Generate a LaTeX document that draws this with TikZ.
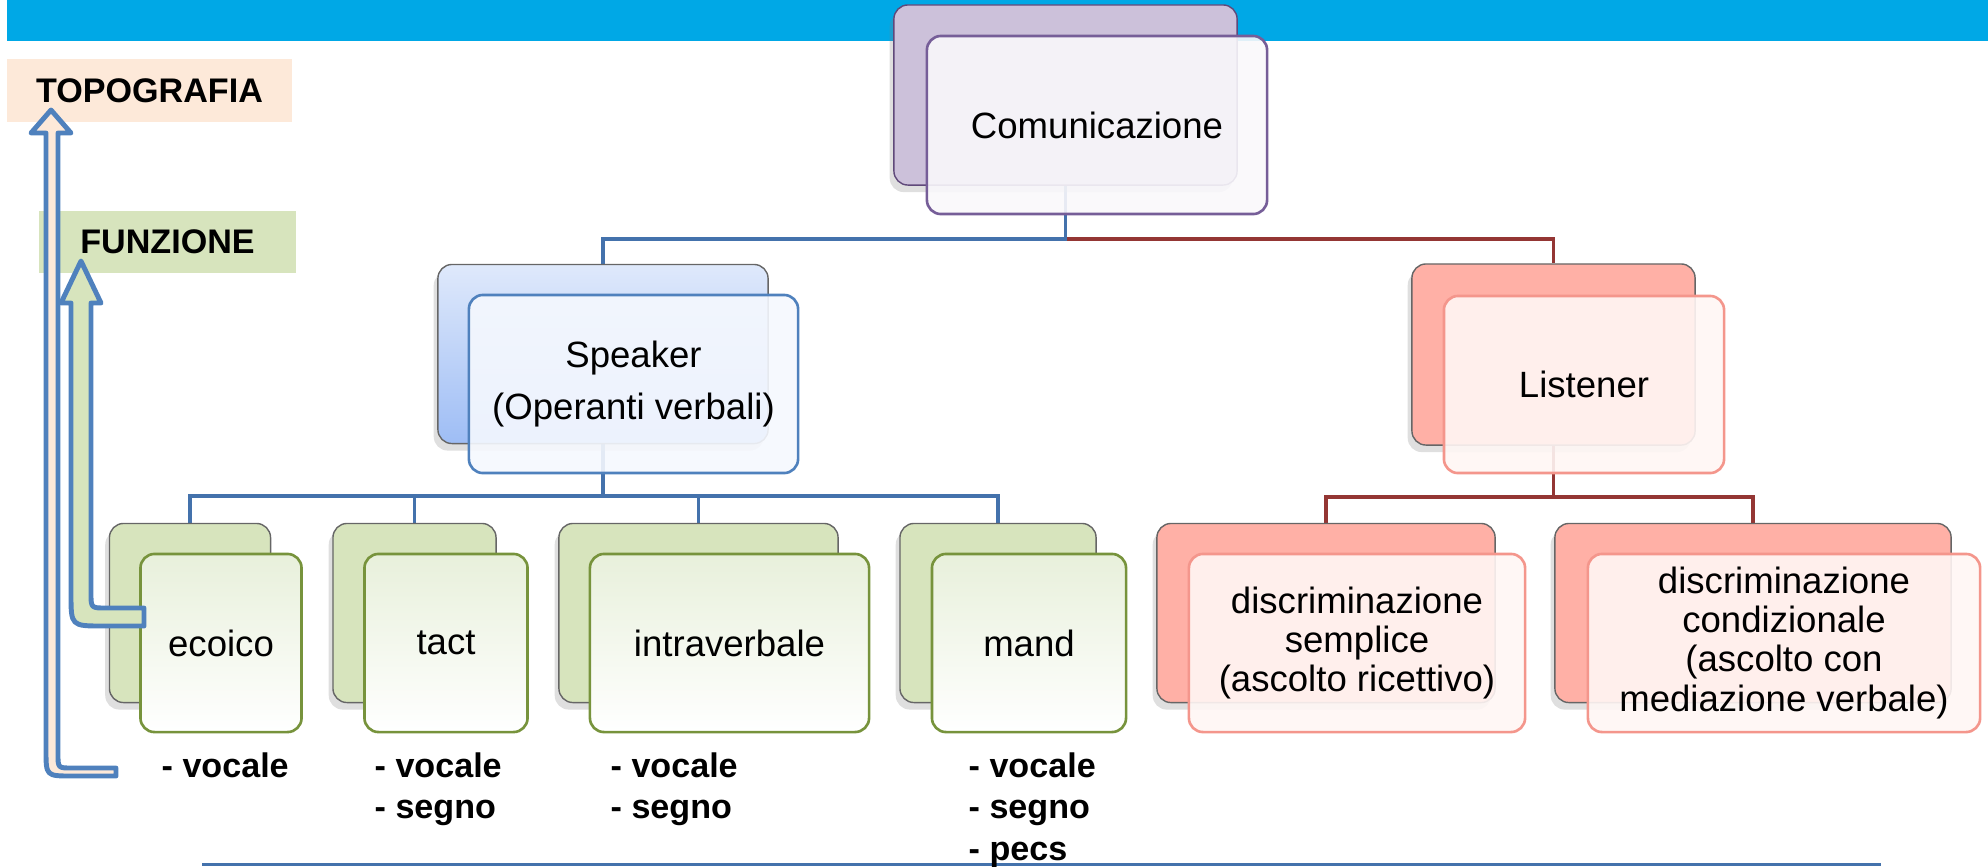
\documentclass[tikz,border=0pt]{standalone}
\usepackage{fontspec}
\setmainfont{Liberation Sans}
\usetikzlibrary{shadows,backgrounds}

\definecolor{barblue}{RGB}{0,168,230}
\definecolor{linkblue}{RGB}{68,114,172}
\definecolor{linkred}{RGB}{148,54,52}
\definecolor{arrowblue}{RGB}{79,129,189}
\definecolor{comfill}{RGB}{204,193,218}
\definecolor{comedge}{RGB}{95,73,122}
\definecolor{comline}{RGB}{118,94,152}
\definecolor{spktop}{RGB}{223,233,251}
\definecolor{spkbot}{RGB}{158,189,245}
\definecolor{lstfill}{RGB}{255,176,166}
\definecolor{lstline}{RGB}{244,150,140}
\definecolor{leaffill}{RGB}{215,228,189}
\definecolor{leaftop}{RGB}{232,240,219}
\definecolor{leafline}{RGB}{119,147,60}
\definecolor{peach}{RGB}{253,233,217}

\begin{document}
\begin{tikzpicture}[x=0.01cm, y=-0.01cm,
    back/.style={rectangle, rounded corners=4pt, draw=black!60, line width=0.4pt, inner sep=0pt, minimum height=1.79cm,
        drop shadow={shadow xshift=-1.2pt, shadow yshift=-2pt, opacity=0.25}},
    front/.style={rectangle, rounded corners=4pt, line width=0.75pt, inner sep=0pt, minimum height=1.78cm,
        align=center, fill opacity=0.9, text opacity=1, font=\fontsize{10.4}{11.1}\selectfont},
    comback/.style={back, fill=comfill, draw=comedge, minimum width=3.43cm, minimum height=1.8cm},
    comfront/.style={front, draw=comline, fill=comfill!12, minimum width=3.4cm},
    spkback/.style={back, top color=spktop, bottom color=spkbot, minimum width=3.3cm},
    spkfront/.style={front, draw=arrowblue, fill=spktop!30, minimum width=3.29cm, font=\fontsize{10.4}{15}\selectfont},
    lstback/.style={back, fill=lstfill, minimum width=2.83cm, minimum height=1.81cm},
    lstfront/.style={front, draw=lstline, fill=lstfill!12, minimum width=2.8cm, minimum height=1.77cm},
    leafback/.style={back, fill=leaffill},
    leaffront/.style={front, draw=leafline, top color=leaftop, bottom color=white, fill opacity=1},
    discback/.style={back, fill=lstfill},
    discfront/.style={front, draw=lstline, fill=lstfill!12},
    tag/.style={rectangle, inner sep=0pt, font=\bfseries\fontsize{9.7}{11}\selectfont},
    form/.style={anchor=north west, inner sep=0pt, align=left, font=\bfseries\fontsize{9.7}{11.8}\selectfont},
    bluelink/.style={draw=linkblue, line width=1.1pt},
    redlink/.style={draw=linkred, line width=1.1pt},
    blockarrow/.style={draw=arrowblue, line width=1.4pt, line join=round}
]
    \useasboundingbox (0,0) rectangle (1988,866);

    % Root
    \node[comback] (comB) at (1065.5,95) {};
    \node[comfront] (com) at (1097,125) {Comunicazione};

    % Speaker / Listener
    \node[spkback] (spkB) at (603,354) {};
    \node[spkfront] (spk) at (633.5,384) {Speaker\\(Operanti verbali)};
    \node[lstback] (lstB) at (1553.5,354.5) {};
    \node[lstfront] (lst) at (1584,384.5) {Listener};

    % Operanti verbali
    \node[leafback, minimum width=1.61cm] (ecoB) at (190,613) {};
    \node[leaffront, minimum width=1.61cm] (eco) at (221,643) {ecoico};
    \node[leafback, minimum width=1.63cm] (tacB) at (414.5,613) {};
    \node[leaffront, minimum width=1.63cm] (tac) at (446,643) {tact};
    \node[leafback, minimum width=2.79cm] (intB) at (698.5,613) {};
    \node[leaffront, minimum width=2.79cm] (int) at (729.5,643) {intraverbale};
    \node[leafback, minimum width=1.96cm] (manB) at (998,613) {};
    \node[leaffront, minimum width=1.94cm] (man) at (1029,643) {mand};

    % Ascolto
    \node[discback, minimum width=3.38cm] (semB) at (1326,613) {};
    \node[discfront, minimum width=3.36cm] (sem) at (1357,643) {discriminazione\\semplice\\(ascolto ricettivo)};
    \node[discback, minimum width=3.96cm] (conB) at (1753,613) {};
    \node[discfront, minimum width=3.92cm] (con) at (1784,643) {discriminazione\\condizionale\\(ascolto con\\mediazione verbale)};

    % Forme
    \node[form] (ecoL) at (161,752) {- vocale};
    \node[form] (tacL) at (374,752) {- vocale\\- segno};
    \node[form] (intL) at (610,752) {- vocale\\- segno};
    \node[form] (manL) at (968,752) {- vocale\\- segno\\- pecs};

    % Tags
    \node[tag, fill=peach, minimum width=2.85cm, minimum height=0.63cm] (topo) at (149.5,90.5) {TOPOGRAFIA};
    \node[tag, fill=leaffill, minimum width=2.57cm, minimum height=0.62cm] (funz) at (167.5,242) {FUNZIONE};

    % Block arrows
    \filldraw[blockarrow, fill=peach] (116,768) -- (72,768) .. controls (58,768) .. (58,754) -- (58,133) -- (71,133)
        -- (51,110) -- (31,133) -- (46,133) -- (46,750) .. controls (46,776) .. (72,776) -- (116,776) -- cycle;
    \filldraw[blockarrow, fill=leaffill] (144,608) -- (106,608) .. controls (91,608) .. (91,593) -- (91,303) -- (101,303)
        -- (81,261) -- (61,303) -- (71,303) -- (71,594) .. controls (71,626) .. (103,626) -- (144,626) -- cycle;

    \begin{pgfonlayer}{background}
        \fill[barblue] (7,0) rectangle (1988,41);
        \draw[linkblue, line width=0.85pt] (202,864.5) -- (1881,864.5);
        % Connectors
        \draw[redlink] (comB.south) -- ++(0,53) -| (lstB.north);
        \draw[bluelink] (comB.south) -- ++(0,53) -| (spkB.north);
        \draw[bluelink] (spkB.south) -- ++(0,52) -| (ecoB.north);
        \draw[bluelink] (spkB.south) -- ++(0,52) -| (tacB.north);
        \draw[bluelink] (spkB.south) -- ++(0,52) -| (intB.north);
        \draw[bluelink] (spkB.south) -- ++(0,52) -| (manB.north);
        \draw[redlink] (lstB.south) -- ++(0,51) -| (semB.north);
        \draw[redlink] (lstB.south) -- ++(0,51) -| (conB.north);
    \end{pgfonlayer}
\end{tikzpicture}
\end{document}
